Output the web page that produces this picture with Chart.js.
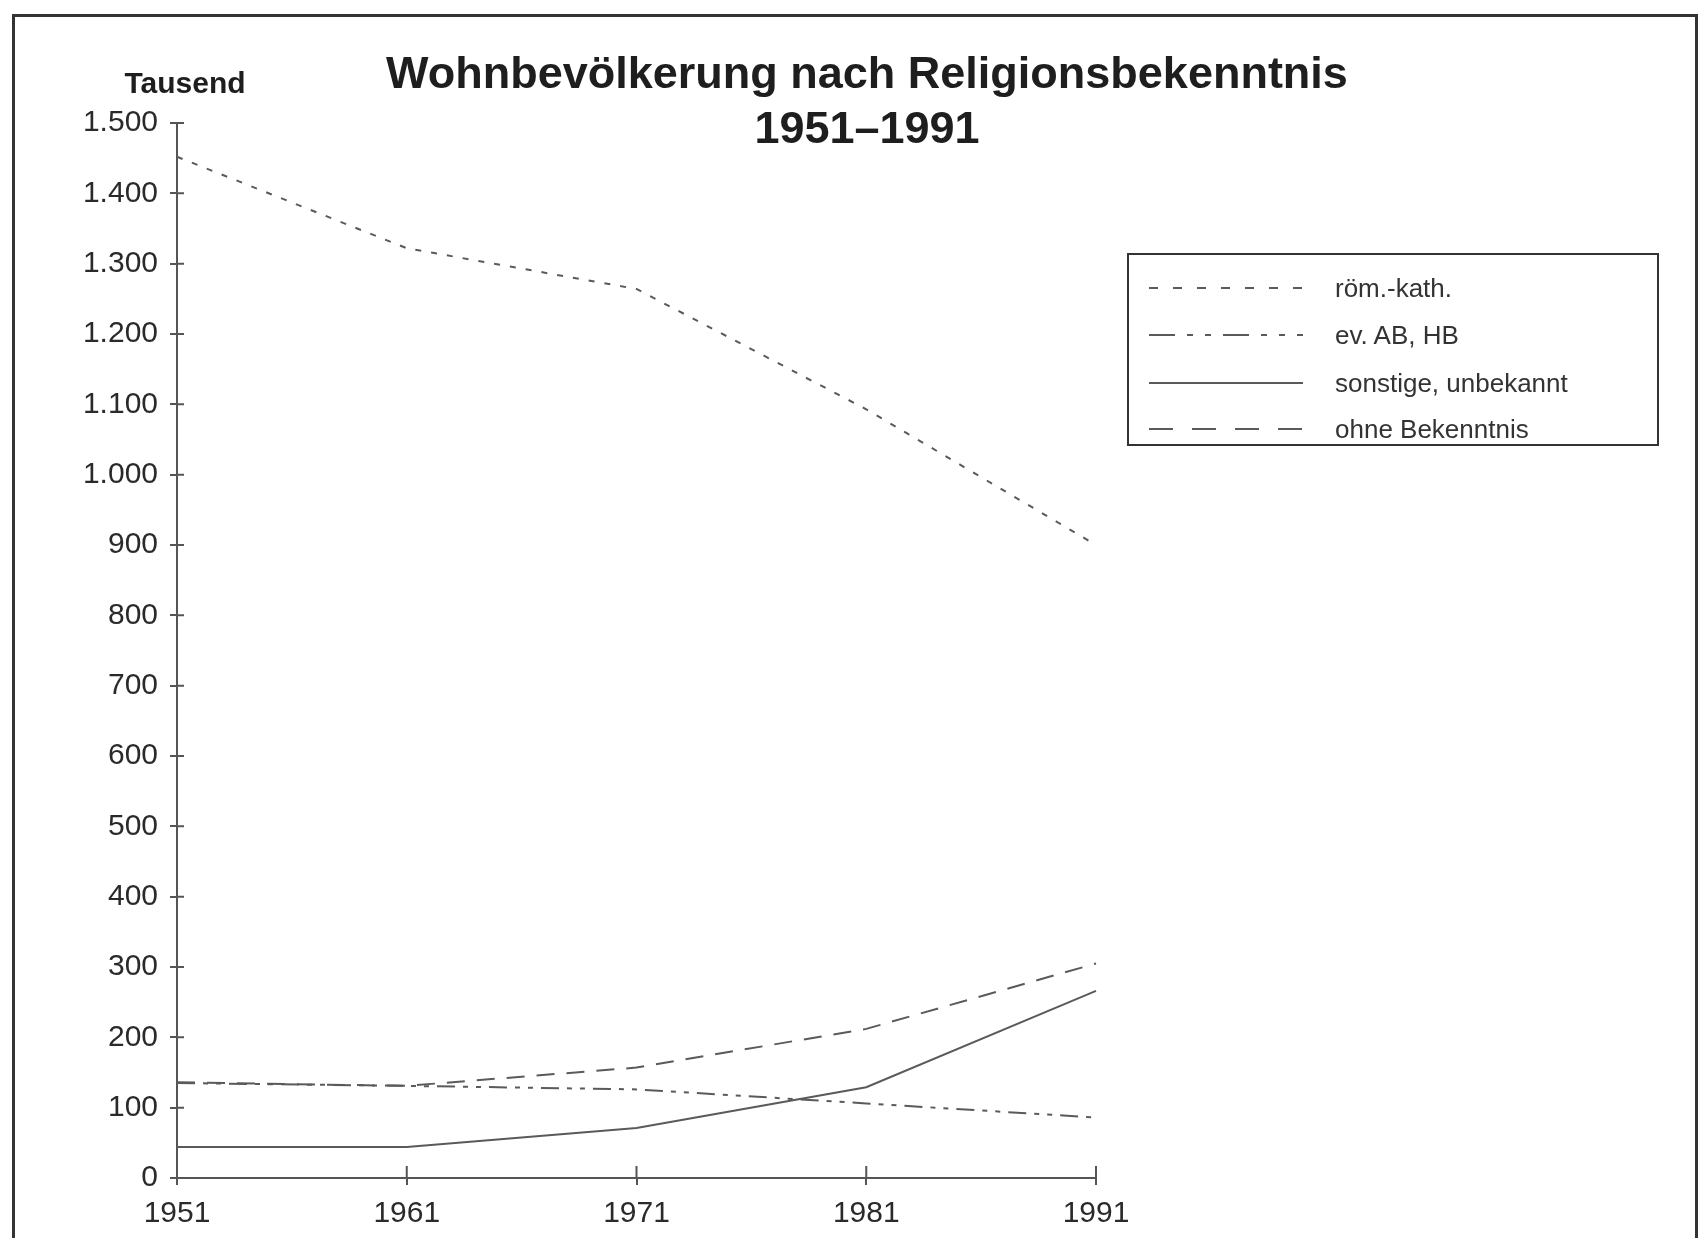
<!DOCTYPE html>
<html>
<head>
<meta charset="utf-8">
<script src="https://cdn.jsdelivr.net/npm/chart.js@4"></script>
<style>
  body { margin: 0; background: #fff; }
  #wrap { position: relative; width: 1705px; height: 1238px; overflow: hidden; background: #fff; font-family: "Liberation Sans", Arial, sans-serif; color: #222; }
  #chart { position: absolute; left: 0; top: 0; }
  .frame { position: absolute; left: 12px; top: 14px; width: 1680px; height: 1400px; border: 3px solid #333; }
  .title { position: absolute; left: 0; top: 45px; width: 1734px; text-align: center; font-weight: bold; font-size: 45px; line-height: 55px; color: #1e1e1e; }
  .unit { position: absolute; left: 85px; top: 68px; width: 200px; text-align: center; font-weight: bold; font-size: 30px; line-height: 30px; color: #1e1e1e; }
  #legend { position: absolute; left: 1127px; top: 253px; width: 528px; height: 189px; border: 2px solid #333; }
  .row { position: absolute; left: 0; height: 30px; width: 100%; }
  .row svg { position: absolute; left: 20px; top: 0; }
  .row span { position: absolute; left: 206px; top: 0; font-size: 26px; line-height: 30px; color: #333; }
</style>
</head>
<body>
<div id="wrap">
  <canvas id="chart" width="1705" height="1238"></canvas>
  <div class="frame"></div>
  <div class="title">Wohnbevölkerung nach Religionsbekenntnis<br>1951–1991</div>
  <div class="unit">Tausend</div>
  <div id="legend"></div>
</div>
<script>
// Werte in Tausend
const years = ["1951", "1961", "1971", "1981", "1991"];
const roemKath = [1452, 1322, 1264, 1093, 900];
const evangelisch = [135, 131, 126, 106, 86];
const sonstige = [44, 44, 71, 129, 266];
const ohneBekenntnis = [136, 131, 157, 212, 305];

const lineColor = "#5a5a5a";
const axisColor = "#555";

function dotted(n) {
  return String(n).replace(/\B(?=(\d{3})+(?!\d))/g, ".");
}

// tick marks also reach into the plot area
const crossTicks = {
  id: "crossTicks",
  afterDraw(chart) {
    const {ctx, chartArea, scales} = chart;
    ctx.save();
    ctx.strokeStyle = axisColor;
    ctx.lineWidth = 2;
    ctx.beginPath();
    scales.y.ticks.forEach((t, i) => {
      const y = scales.y.getPixelForTick(i);
      ctx.moveTo(chartArea.left, y);
      ctx.lineTo(chartArea.left + 7, y);
    });
    scales.x.ticks.forEach((t, i) => {
      const x = scales.x.getPixelForTick(i);
      ctx.moveTo(x, chartArea.bottom);
      ctx.lineTo(x, chartArea.bottom - 12);
    });
    ctx.stroke();
    ctx.restore();
  }
};

const chart = new Chart(document.getElementById("chart"), {
  type: "line",
  data: {
    labels: years,
    datasets: [
      {label: "röm.-kath.", data: roemKath, borderDash: [6, 10], legendDash: [9, 15]},
      {label: "ev. AB, HB", data: evangelisch, borderDash: [18, 8, 5, 8, 5, 8], legendDash: [26, 12, 6, 12, 6, 12]},
      {label: "sonstige, unbekannt", data: sonstige, borderDash: [], legendDash: []},
      {label: "ohne Bekenntnis", data: ohneBekenntnis, borderDash: [18, 12], legendDash: [24, 19]}
    ].map(d => Object.assign(d, {borderColor: lineColor, borderWidth: 2, pointRadius: 0, tension: 0, fill: false}))
  },
  options: {
    responsive: false,
    animation: false,
    layout: {padding: {left: 0, right: 609, top: 123, bottom: 0}},
    plugins: {
      legend: {display: false},
      title: {display: false},
      tooltip: {enabled: false}
    },
    scales: {
      x: {
        offset: false,
        border: {color: axisColor, width: 2},
        grid: {drawOnChartArea: false, color: axisColor, lineWidth: 2, tickLength: 7},
        ticks: {
          color: "#2a2a2a", padding: 11, maxRotation: 0,
          font: {family: "'Liberation Sans', Arial", size: 30}
        },
        afterFit(scale) { scale.height = 60; }
      },
      y: {
        min: 0, max: 1500,
        border: {color: axisColor, width: 2},
        grid: {drawOnChartArea: false, color: axisColor, lineWidth: 2, tickLength: 7},
        ticks: {
          stepSize: 100, color: "#2a2a2a", padding: 12,
          font: {family: "'Liberation Sans', Arial", size: 30},
          callback: v => dotted(v)
        },
        afterFit(scale) { scale.width = 177; }
      }
    }
  },
  plugins: [crossTicks]
});

// legend built from the datasets
const legend = document.getElementById("legend");
const rowTops = [18, 65, 113, 159];
chart.data.datasets.forEach((ds, i) => {
  const row = document.createElement("div");
  row.className = "row";
  row.style.top = rowTops[i] + "px";
  row.innerHTML =
    '<svg width="154" height="30"><line x1="0" y1="15" x2="154" y2="15" stroke="' + ds.borderColor +
    '" stroke-width="2" stroke-dasharray="' + (ds.legendDash.length ? ds.legendDash.join(" ") : "none") + '"/></svg>' +
    "<span>" + ds.label + "</span>";
  legend.appendChild(row);
});
</script>
</body>
</html>
